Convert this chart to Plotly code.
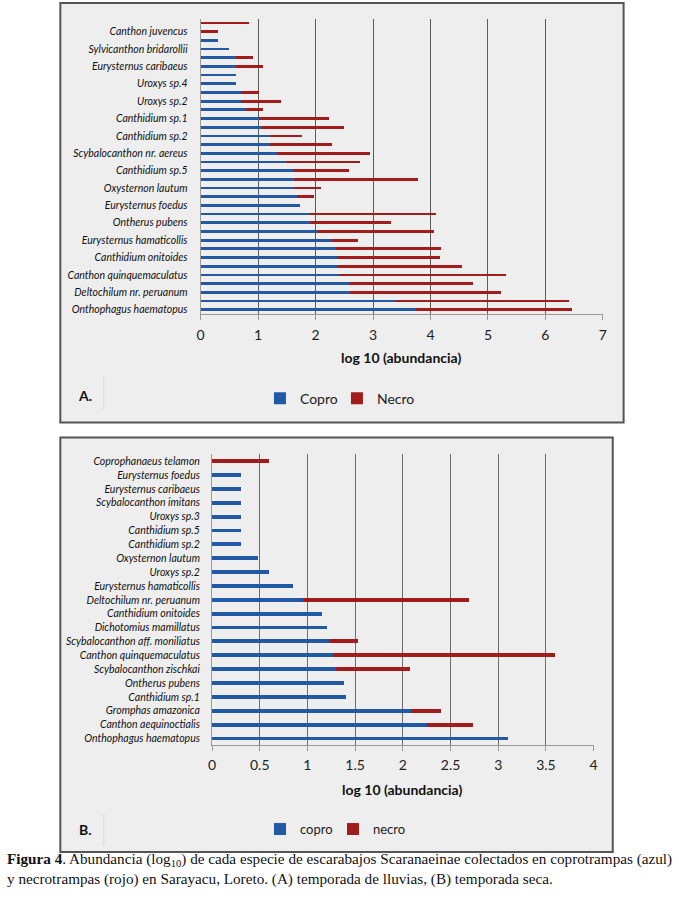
import plotly.graph_objects as go

# ---------------- Panel A (temporada de lluvias), top to bottom ----------------
species_a = [
    "", "Canthon juvencus", "", "Sylvicanthon bridarollii", "", "Eurysternus caribaeus",
    "", "Uroxys sp.4", "", "Uroxys sp.2", "", "Canthidium sp.1", "", "Canthidium sp.2",
    "", "Scybalocanthon nr. aereus", "", "Canthidium sp.5", "", "Oxysternon lautum",
    "", "Eurysternus foedus", "", "Ontherus pubens", "", "Eurysternus hamaticollis",
    "", "Canthidium onitoides", "", "Canthon quinquemaculatus", "", "Deltochilum nr. peruanum",
    "", "Onthophagus haematopus",
]
copro_a = [0.00, 0.00, 0.30, 0.49, 0.61, 0.61, 0.61, 0.61, 0.70, 0.70, 0.79, 1.01, 1.06, 1.20,
           1.20, 1.33, 1.49, 1.60, 1.63, 1.63, 1.67, 1.73, 1.88, 1.90, 2.02, 2.26, 2.36, 2.37,
           2.38, 2.40, 2.58, 2.60, 3.39, 3.74]
necro_a = [0.85, 0.30, 0.00, 0.00, 0.30, 0.48, 0.00, 0.00, 0.31, 0.70, 0.30, 1.23, 1.43, 0.57,
           1.09, 1.61, 1.29, 0.98, 2.16, 0.47, 0.30, 0.00, 2.22, 1.42, 2.04, 0.47, 1.83, 1.80,
           2.17, 2.91, 2.16, 2.63, 3.02, 2.73]
ticks_a = [0, 1, 2, 3, 4, 5, 6, 7]

# ---------------- Panel B (temporada seca), top to bottom ----------------
species_b = [
    "Coprophanaeus telamon", "Eurysternus foedus", "Eurysternus caribaeus",
    "Scybalocanthon imitans", "Uroxys sp.3", "Canthidium sp.5", "Canthidium sp.2",
    "Oxysternon lautum", "Uroxys sp.2", "Eurysternus hamaticollis", "Deltochilum nr. peruanum",
    "Canthidium onitoides", "Dichotomius mamillatus", "Scybalocanthon aff. moniliatus",
    "Canthon quinquemaculatus", "Scybalocanthon zischkai", "Ontherus pubens",
    "Canthidium sp.1", "Gromphas amazonica", "Canthon aequinoctialis", "Onthophagus haematopus",
]
copro_b = [0.00, 0.30, 0.30, 0.30, 0.30, 0.30, 0.30, 0.48, 0.60, 0.85, 0.95, 1.15, 1.20, 1.23,
           1.27, 1.30, 1.38, 1.40, 2.09, 2.25, 3.10]
necro_b = [0.60, 0.00, 0.00, 0.00, 0.00, 0.00, 0.00, 0.00, 0.00, 0.00, 1.74, 0.00, 0.00, 0.30,
           2.33, 0.78, 0.00, 0.00, 0.31, 0.49, 0.00]
ticks_b = [0, 0.5, 1, 1.5, 2, 2.5, 3, 3.5, 4]

BLUE = "#2159a5"
RED = "#a31c1c"
W, H = 679, 901


def px(x):
    return x / W


def py(y):
    return 1 - y / H


idx_a = list(range(len(species_a)))
lab_idx = [i for i, s in enumerate(species_a) if s]
lab_txt = [species_a[i] for i in lab_idx]

fig = go.Figure()
fig.add_trace(go.Bar(y=idx_a, x=copro_a, orientation="h", name="Copro", marker_color=BLUE,
                     width=0.32, xaxis="x", yaxis="y", legend="legend", legendwidth=32))
fig.add_trace(go.Bar(y=idx_a, x=necro_a, orientation="h", name="Necro", marker_color=RED,
                     width=0.32, xaxis="x", yaxis="y", legend="legend", legendwidth=46))
fig.add_trace(go.Bar(y=species_b, x=copro_b, orientation="h", name="copro", marker_color=BLUE,
                     width=0.28, xaxis="x2", yaxis="y2", legend="legend2", legendwidth=28))
fig.add_trace(go.Bar(y=species_b, x=necro_b, orientation="h", name="necro", marker_color=RED,
                     width=0.28, xaxis="x2", yaxis="y2", legend="legend2", legendwidth=42))

for tr in fig.data:
    tr.marker.line.width = 0

xfont = dict(family="Lato", size=14, color="#222")
yfont = dict(family="Lato", size=10.5, color="#111", style="italic")

shapes = [
    dict(type="rect", xref="paper", yref="paper", x0=px(57), x1=px(627), y0=py(423), y1=py(3),
         line=dict(color="#555", width=2), fillcolor="#eeeeee", layer="below"),
    dict(type="rect", xref="paper", yref="paper", x0=px(57), x1=px(616), y0=py(853), y1=py(438),
         line=dict(color="#555", width=2), fillcolor="#eeeeee", layer="below"),
    dict(type="line", xref="paper", yref="paper", x0=px(101), x1=px(101), y0=py(410), y1=py(377),
         line=dict(color="#d8d8d8", width=1)),
    dict(type="line", xref="paper", yref="paper", x0=px(101), x1=px(101), y0=py(847), y1=py(815),
         line=dict(color="#d8d8d8", width=1)),
]

annotations = [
    dict(text="<b>log 10 (abundancia)</b>", x=px(402), y=py(358), xref="paper", yref="paper",
         xanchor="center", yanchor="middle", showarrow=False,
         font=dict(family="Lato", size=14, color="#111")),
    dict(text="<b>log 10 (abundancia)</b>", x=px(403), y=py(790), xref="paper", yref="paper",
         xanchor="center", yanchor="middle", showarrow=False,
         font=dict(family="Lato", size=14, color="#111")),
    dict(text="<b>A.</b>", x=px(82), y=py(396), xref="paper", yref="paper", showarrow=False,
         xanchor="center", yanchor="middle", font=dict(family="Lato", size=14, color="#111")),
    dict(text="<b>B.</b>", x=px(82), y=py(830), xref="paper", yref="paper", showarrow=False,
         xanchor="center", yanchor="middle", font=dict(family="Lato", size=14, color="#111")),
    dict(text="<b>Figura 4</b>. Abundancia (log<sub>10</sub>) de cada especie de escarabajos "
              "Scaranaeinae colectados en coprotrampas (azul)",
         x=px(1), y=py(860), xref="paper", yref="paper", xanchor="left", yanchor="middle",
         align="left", showarrow=False,
         font=dict(family="Liberation Serif", size=15.2, color="#111")),
    dict(text="y necrotrampas (rojo) en Sarayacu, Loreto. (A) temporada de lluvias, "
              "(B) temporada seca.",
         x=px(1), y=py(880), xref="paper", yref="paper", xanchor="left", yanchor="middle",
         align="left", showarrow=False,
         font=dict(family="Liberation Serif", size=15.2, color="#111")),
]

fig.update_layout(
    width=W, height=H,
    margin=dict(l=0, r=0, t=0, b=0),
    paper_bgcolor="white", plot_bgcolor="rgba(0,0,0,0)",
    barmode="stack",
    showlegend=True,
    shapes=shapes, annotations=annotations,
    xaxis=dict(domain=[px(199), px(606)], range=[0, 7], tickvals=ticks_a, anchor="y",
               showgrid=True, gridcolor="#5a5a5a", gridwidth=1, zeroline=False,
               showline=True, linecolor="#9a9a9a", ticks="outside", ticklen=5,
               tickcolor="#9a9a9a", tickfont=xfont, ticklabelstandoff=3),
    yaxis=dict(domain=[py(314.4), py(18.6)], range=[33.5, -0.5], tickvals=lab_idx,
               ticktext=lab_txt, anchor="x", showgrid=False, zeroline=False, showline=True,
               linecolor="#9a9a9a", ticks="", tickfont=yfont, ticklabelstandoff=10),
    xaxis2=dict(domain=[px(210.5), px(596.7)], range=[0, 4], tickvals=ticks_b, anchor="y2",
                showgrid=True, gridcolor="#6e6e6e", gridwidth=1, zeroline=False,
                showline=True, linecolor="#9a9a9a", ticks="outside", ticklen=5,
                tickcolor="#9a9a9a", tickfont=xfont, ticklabelstandoff=2),
    yaxis2=dict(domain=[py(746.2), py(454.8)], autorange="reversed", type="category",
                categoryorder="array", categoryarray=species_b, anchor="x2", showgrid=False,
                zeroline=False, showline=True, linecolor="#9a9a9a", ticks="",
                tickfont=yfont, ticklabelstandoff=9),
    legend=dict(orientation="h", x=px(344), y=py(399), xanchor="center", yanchor="middle",
                bgcolor="rgba(0,0,0,0)", font=dict(family="Lato", size=14, color="#222"),
                itemwidth=30, traceorder="normal"),
    legend2=dict(orientation="h", x=px(340), y=py(830), xanchor="center", yanchor="middle",
                 bgcolor="rgba(0,0,0,0)", font=dict(family="Lato", size=13, color="#222"),
                 itemwidth=30, traceorder="normal"),
)

fig.write_html(
    "out.html",
    config={"displayModeBar": False},
    post_script="document.body.style.margin='0';document.body.style.overflow='hidden';",
)
